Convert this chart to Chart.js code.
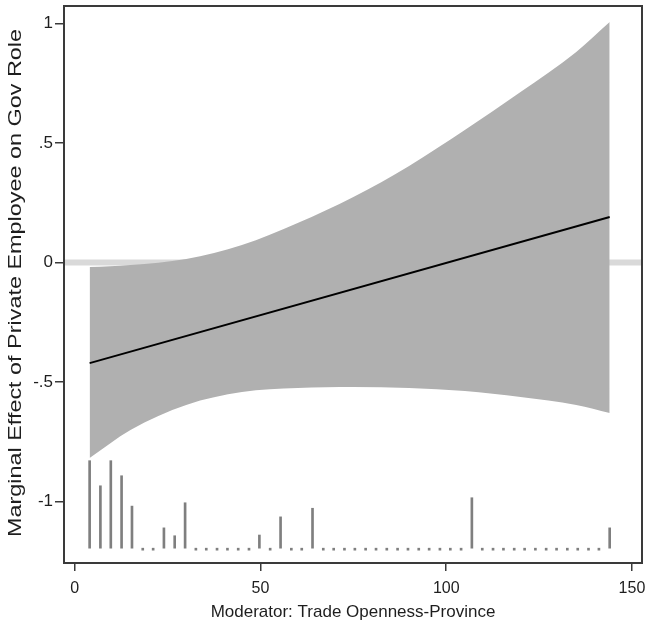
<!DOCTYPE html>
<html>
<head>
<meta charset="utf-8">
<script src="https://cdn.jsdelivr.net/npm/chart.js@4.4.1/dist/chart.umd.min.js"></script>
<style>
  html, body { margin: 0; padding: 0; background: #fff; }
  #wrap { width: 646px; height: 625px; }
</style>
</head>
<body>
<div id="wrap"><canvas id="meChart" width="646" height="625"></canvas></div>
<script>
const moderatorX = [4, 15, 30, 45, 60, 75, 90, 105, 120, 135, 144];
const ciUpper = [-0.019, -0.010, 0.015, 0.073, 0.165, 0.274, 0.404, 0.554, 0.713, 0.881, 1.006];
const ciLower = [-0.818, -0.701, -0.596, -0.542, -0.525, -0.521, -0.525, -0.538, -0.563, -0.596, -0.630];

// marginal effect (straight line)
const effectX = [4, 144];
const effectY = [-0.421, 0.190];

// distribution of the moderator (spike plot along the bottom)
const histBase = -1.195;
const histBins = [4.0, 6.9, 9.7, 12.6, 15.4, 18.3, 21.1, 24.0, 26.9, 29.7,
  32.6, 35.4, 38.3, 41.1, 44.0, 46.9, 49.7, 52.6, 55.4, 58.3,
  61.1, 64.0, 66.9, 69.7, 72.6, 75.4, 78.3, 81.1, 84.0, 86.9,
  89.7, 92.6, 95.4, 98.3, 101.1, 104.0, 106.9, 109.7, 112.6, 115.4,
  118.3, 121.1, 124.0, 126.9, 129.7, 132.6, 135.4, 138.3, 141.1, 144.0];
const histHeight = [0.366, 0.261, 0.366, 0.303, 0.176, 0, 0, 0.085, 0.052, 0.190,
  0, 0, 0, 0, 0, 0, 0.055, 0, 0.131, 0,
  0, 0.167, 0, 0, 0, 0, 0, 0, 0, 0,
  0, 0, 0, 0, 0, 0, 0.211, 0, 0, 0,
  0, 0, 0, 0, 0, 0, 0, 0, 0, 0.085];

// axis ticks
const xTicks = [0, 50, 100, 150];
const yTicks = [-1, -0.5, 0, 0.5, 1];

const FONT = "'Liberation Sans', Arial, Helvetica, sans-serif";
const INK = "#1e1e1e";
const FRAME = "#3a3a3a";

const stataLabel = v => (v === 0 ? "0" : String(v).replace("0.", "."));

// light grey reference line at zero, under everything else
const zeroLine = {
  id: "zeroLine",
  beforeDatasetsDraw(chart) {
    const { ctx, chartArea: a, scales: { y } } = chart;
    const py = y.getPixelForValue(0);
    ctx.save();
    ctx.strokeStyle = "#d9d9d9";
    ctx.lineWidth = 6;
    ctx.beginPath();
    ctx.moveTo(a.left, py);
    ctx.lineTo(a.right, py);
    ctx.stroke();
    ctx.restore();
  },
};

// box round the plot + the stretched vertical title
const frameAndTitle = {
  id: "frameAndTitle",
  afterDraw(chart) {
    const { ctx, chartArea: a } = chart;
    ctx.save();
    ctx.strokeStyle = FRAME;
    ctx.lineWidth = 2;
    ctx.strokeRect(a.left, a.top, a.right - a.left, a.bottom - a.top);

    const title = "Marginal Effect of Private Employee on Gov Role";
    ctx.font = "19px " + FONT;
    ctx.fillStyle = INK;
    ctx.textAlign = "center";
    ctx.textBaseline = "middle";
    const w = ctx.measureText(title).width;
    ctx.translate(16, 283);
    ctx.rotate(-Math.PI / 2);
    ctx.scale(508 / w, 1);
    ctx.fillText(title, 0, 0);
    ctx.restore();
  },
};

new Chart(document.getElementById("meChart"), {
  type: "line",
  data: {
    datasets: [
      {
        label: "Marginal effect",
        data: effectX.map((x, i) => ({ x, y: effectY[i] })),
        borderColor: "#000",
        borderWidth: 2,
        pointRadius: 0,
        fill: false,
      },
      {
        type: "bar",
        label: "Moderator distribution",
        data: histBins.map((x, i) => ({ x, y: [histBase, histBase + histHeight[i]] })),
        backgroundColor: "#7f7f7f",
        barThickness: 2,
        minBarLength: 2,
        grouped: false,
      },
      {
        label: "Upper CI",
        data: moderatorX.map((x, i) => ({ x, y: ciUpper[i] })),
        borderWidth: 0,
        pointRadius: 0,
        cubicInterpolationMode: "monotone",
        backgroundColor: "#b0b0b0",
        fill: "+1",
      },
      {
        label: "Lower CI",
        data: moderatorX.map((x, i) => ({ x, y: ciLower[i] })),
        borderWidth: 0,
        pointRadius: 0,
        cubicInterpolationMode: "monotone",
        fill: false,
      },
    ],
  },
  options: {
    responsive: false,
    animation: false,
    layout: { padding: { top: 6, right: 4, left: 0, bottom: 0 } },
    plugins: {
      legend: { display: false },
      tooltip: { enabled: false },
    },
    scales: {
      x: {
        type: "linear",
        offset: false,
        min: -2.9,
        max: 152.7,
        afterBuildTicks: s => { s.ticks = xTicks.map(v => ({ value: v })); },
        afterFit: s => { s.height = 62; s.paddingLeft = 0; s.paddingRight = 0; },
        border: { display: false },
        grid: { offset: false, drawOnChartArea: false, drawTicks: true, tickLength: 8, color: FRAME, lineWidth: 1.5 },
        ticks: { color: INK, font: { family: FONT, size: 16 }, padding: 8, maxRotation: 0 },
        title: {
          display: true,
          text: "Moderator: Trade Openness-Province",
          color: INK,
          font: { family: FONT, size: 17 },
          padding: { top: 0, bottom: 2 },
        },
      },
      y: {
        type: "linear",
        min: -1.257,
        max: 1.073,
        afterBuildTicks: s => { s.ticks = yTicks.map(v => ({ value: v })); },
        afterFit: s => { s.width = 64; s.paddingTop = 0; s.paddingBottom = 0; },
        border: { display: false },
        grid: { drawOnChartArea: false, drawTicks: true, tickLength: 9, color: FRAME, lineWidth: 1.5 },
        ticks: { color: INK, font: { family: FONT, size: 17 }, padding: 2, callback: v => stataLabel(v) },
      },
    },
  },
  plugins: [zeroLine, frameAndTitle],
});
</script>
</body>
</html>
